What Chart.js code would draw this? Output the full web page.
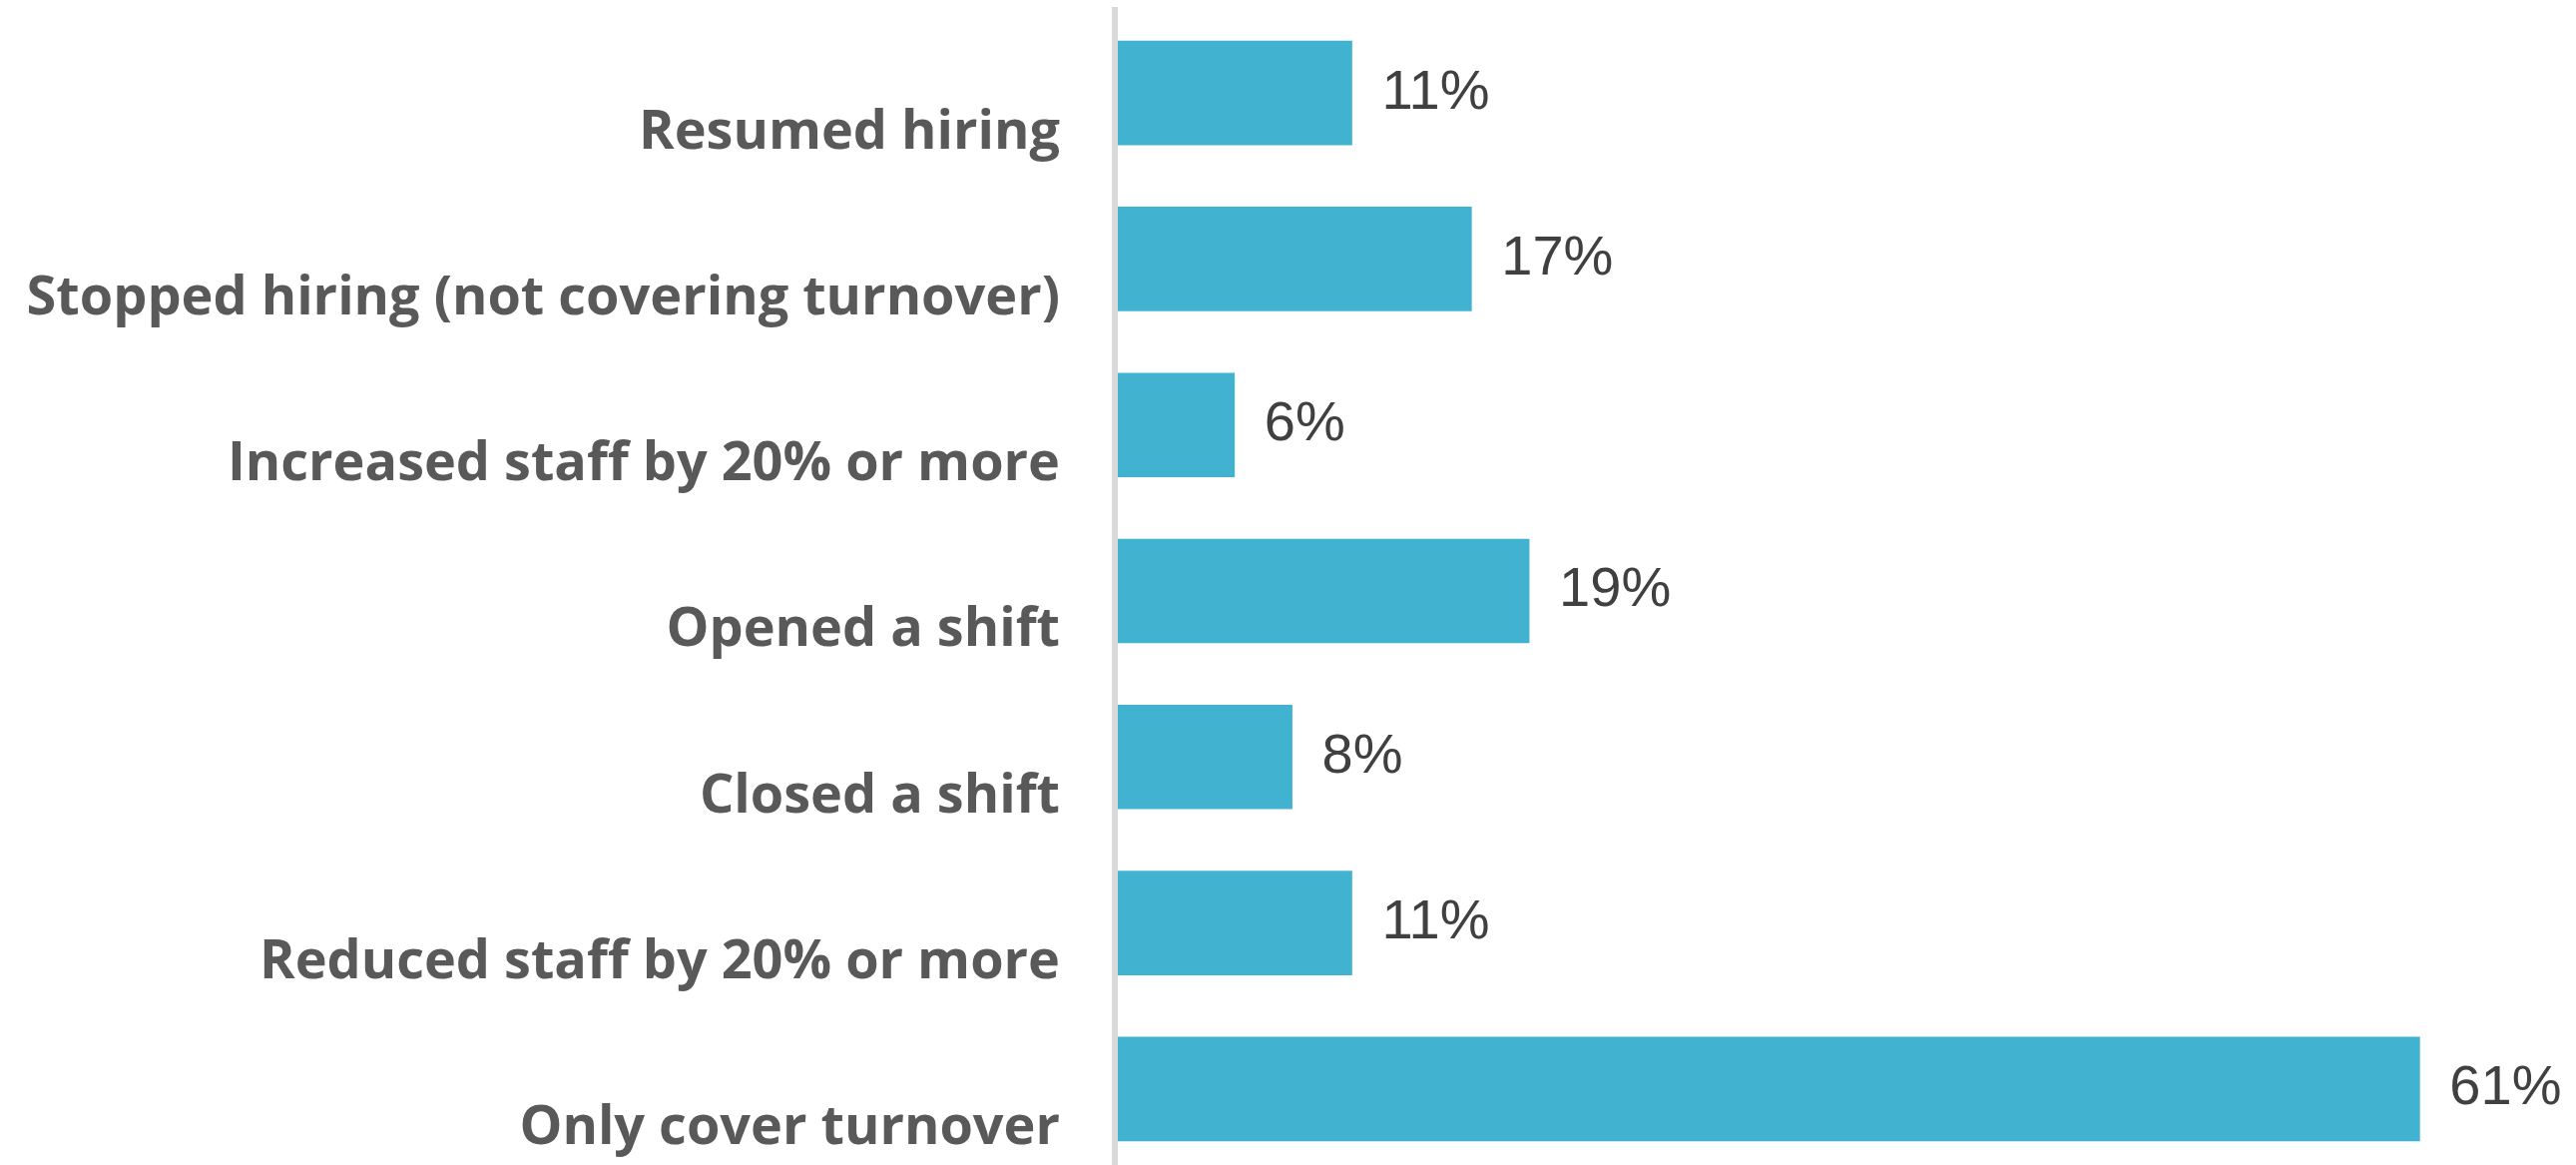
<!DOCTYPE html>
<html>
<head>
<meta charset="utf-8">
<title>Hiring changes</title>
<script src="https://cdn.jsdelivr.net/npm/chart.js@4.4.1/dist/chart.umd.min.js"></script>
<style>
  html, body { margin: 0; padding: 0; background: #fff; overflow: hidden; }
  #wrap { width: 2581px; height: 1175px; }
</style>
</head>
<body>
<div id="wrap"><canvas id="hiringChart"></canvas></div>
<script>
// Chart data
const categories = [
  'Resumed hiring',
  'Stopped hiring (not covering turnover)',
  'Increased staff by 20% or more',
  'Opened a shift',
  'Closed a shift',
  'Reduced staff by 20% or more',
  'Only cover turnover'
];
const shares = [11.1, 16.7, 5.6, 19.4, 8.3, 11.1, 61.1];

function formatShare(v) {
  return Math.round(v) + '%';
}

// Draws the "11%" style labels at the end of each bar
const valueLabels = {
  id: 'valueLabels',
  afterDatasetsDraw(chart) {
    const ctx = chart.ctx;
    const meta = chart.getDatasetMeta(0);
    ctx.save();
    ctx.font = "56px 'Liberation Sans', Arial, sans-serif";
    ctx.fillStyle = '#404040';
    ctx.textAlign = 'left';
    ctx.textBaseline = 'middle';
    meta.data.forEach((bar, i) => {
      ctx.fillText(formatShare(shares[i]), bar.x + 30, bar.y);
    });
    ctx.restore();
  }
};

new Chart(document.getElementById('hiringChart'), {
  type: 'bar',
  data: {
    labels: categories,
    datasets: [
      {
        data: shares,
        backgroundColor: '#42b2d1',
        borderWidth: 0,
        barThickness: 104
      }
    ]
  },
  options: {
    indexAxis: 'y',
    responsive: true,
    maintainAspectRatio: false,
    animation: false,
    layout: {
      padding: { top: 10, bottom: 1, left: 0, right: 9 }
    },
    plugins: {
      legend: { display: false },
      tooltip: { enabled: false }
    },
    scales: {
      x: {
        display: false,
        min: 0,
        max: 68
      },
      y: {
        afterFit(scale) {
          // fixed label column, no extra room above/below the bars
          scale.width = 1117;
          scale.paddingTop = 0;
          scale.paddingBottom = 0;
        },
        grid: { display: false, drawTicks: false },
        border: { color: '#d9d9d9', width: 6, z: 1 },
        ticks: {
          color: '#595959',
          padding: 55,
          labelOffset: 40,
          font: { family: "'Open Sans', sans-serif", weight: 'bold', size: 54 }
        }
      }
    }
  },
  plugins: [valueLabels]
});
</script>
</body>
</html>
